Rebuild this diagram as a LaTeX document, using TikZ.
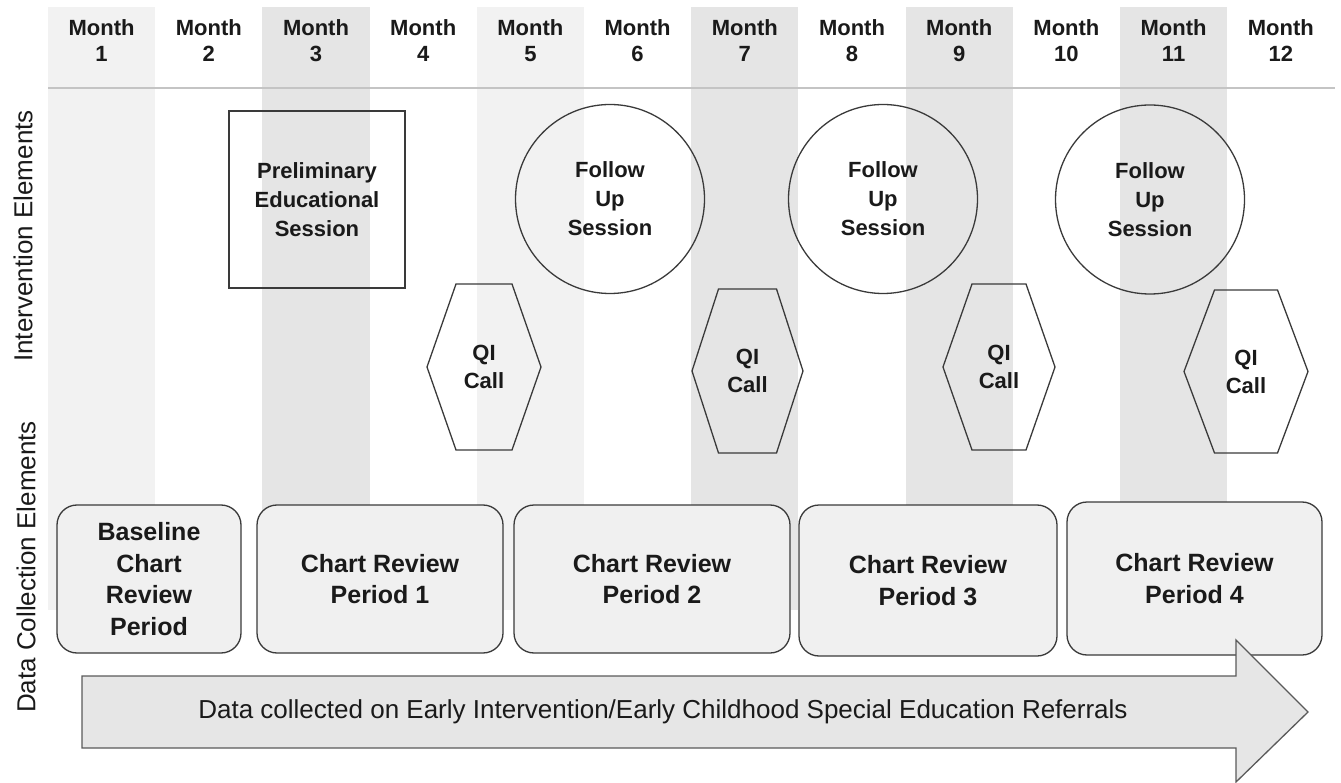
\documentclass[tikz,border=0pt]{standalone}
\usepackage{fontspec}
\setmainfont{Liberation Sans}
\definecolor{colA}{HTML}{F2F2F2}
\definecolor{colB}{HTML}{E5E5E5}
\definecolor{edgec}{HTML}{3A3A3A}
\definecolor{boxfill}{HTML}{F0F0F0}
\definecolor{arrowfill}{HTML}{E6E6E6}
\definecolor{arrowedge}{HTML}{5A5A5A}
\definecolor{hlinec}{HTML}{C4C4C4}
\definecolor{txt}{HTML}{1A1A1A}
\newcommand\qihex[4]{%
  \draw[shapeline] (#1.center) ++({-#3},{-#4}) -- ++({2*#3},0) -- ++({#2-#3},{#4})
    -- ++({#3-#2},{#4}) -- ++({-2*#3},0) -- ++({#3-#2},{-#4}) -- cycle;}
\begin{document}
\begin{tikzpicture}[x=1pt,y=-1pt,
  monthlbl/.style={font=\fontsize{22}{26}\selectfont\bfseries, align=center, inner sep=0pt, text=txt},
  sidelbl/.style={font=\fontsize{26}{30}\selectfont, rotate=90, inner sep=0pt, text=txt},
  shapeline/.style={draw=edgec, line width=1.3pt},
  ivtext/.style={font=\fontsize{22}{29}\selectfont\bfseries, align=center, inner sep=0pt, text=txt},
  qitext/.style={font=\fontsize{22}{28}\selectfont\bfseries, align=center, inner sep=0pt, text=txt},
  databox/.style={draw=edgec, line width=1.3pt, fill=boxfill, rounded corners=20pt,
    font=\fontsize{25}{31.5}\selectfont\bfseries, align=center, inner sep=0pt, text=txt},
]
\useasboundingbox (0,0) rectangle (1341,783);
% month columns
\foreach \k/\c in {1/colA,3/colB,5/colA,7/colB,9/colB,11/colB}
  \fill[\c] ({48+(\k-1)*107.2},7) rectangle ++(107.2,603);
% month labels
\foreach \k in {1,...,12}
  \node[monthlbl] (m\k) at ({48+(\k-0.5)*107.2},41) {Month\\\k};
\coordinate (hl) at (48,88);
\coordinate (hr) at (1335,88);
\draw[hlinec, line width=2pt] (hl) -- (hr);
% side labels
\node[sidelbl] (ivlbl) at (23,236) {Intervention Elements};
\node[sidelbl] (dclbl) at (26,567) {Data Collection Elements};
% intervention elements
\node[shapeline, minimum width=176pt, minimum height=177pt, ivtext] (prelim) at (317,199.5)
  {Preliminary\\Educational\\Session};
\node[shapeline, circle, minimum size=189pt, ivtext] (fu1) at (610,199) {Follow\\Up\\Session};
\node[shapeline, circle, minimum size=189pt, ivtext] (fu2) at (883,199) {Follow\\Up\\Session};
\node[shapeline, circle, minimum size=189pt, ivtext] (fu3) at (1150,199.5) {Follow\\Up\\Session};
\node[qitext] (qi1) at (484,367) {QI\\Call};
\node[qitext] (qi2) at (747.5,371) {QI\\Call};
\node[qitext] (qi3) at (999,367) {QI\\Call};
\node[qitext] (qi4) at (1246,371.5) {QI\\Call};
\qihex{qi1}{57}{28}{83}
\qihex{qi2}{55.5}{29}{82}
\qihex{qi3}{56}{27}{83}
\qihex{qi4}{62}{31.5}{81.5}
% data collection boxes
\node[databox, minimum width=184pt, minimum height=148pt] (base) at (149,579)
  {Baseline\\Chart\\Review\\Period};
\node[databox, minimum width=246pt, minimum height=148pt] (p1) at (380,579) {Chart Review\\Period 1};
\node[databox, minimum width=276pt, minimum height=148pt] (p2) at (652,579) {Chart Review\\Period 2};
\node[databox, minimum width=258pt, minimum height=151pt] (p3) at (928,580.5) {Chart Review\\Period 3};
\node[databox, minimum width=255pt, minimum height=153pt] (p4) at (1194.5,578.5) {Chart Review\\Period 4};
% arrow
\draw[fill=arrowfill, draw=arrowedge, line width=1.3pt]
  (82,676) -- (1236,676) -- (1236,640) -- (1308,712) -- (1236,782) -- (1236,748) -- (82,748) -- cycle;
\node[font=\fontsize{26}{30}\selectfont, inner sep=0pt, text=txt] (arrtext) at (663,712)
  {Data collected on Early Intervention/Early Childhood Special Education Referrals};
\end{tikzpicture}
\end{document}
